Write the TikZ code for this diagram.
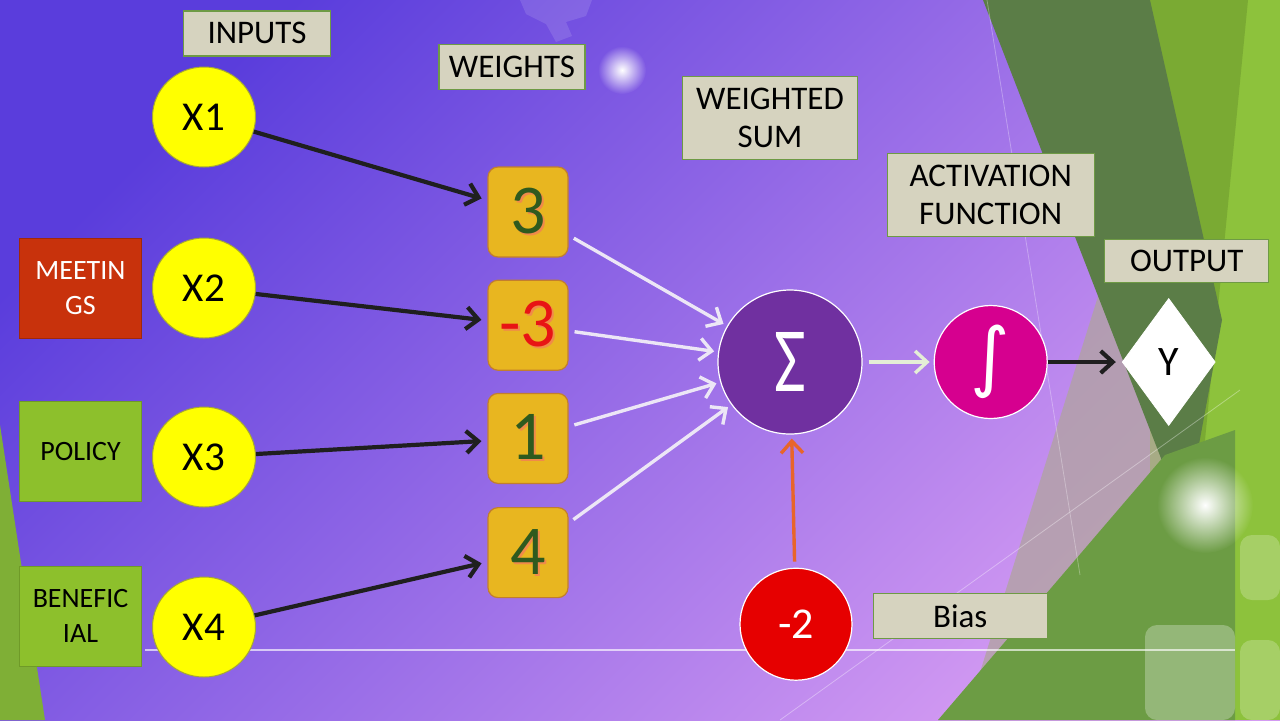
\documentclass[tikz,border=0pt]{standalone}
\usepackage{fontspec}
\setmainfont{Carlito}
\newfontfamily\symfont{DejaVu Sans}
\usepackage{tikz}
\usetikzlibrary{shapes.geometric, arrows.meta, positioning, fadings}
\definecolor{bgtl}{HTML}{5A3DDC}
\definecolor{bgmid}{HTML}{7A5DE0}
\definecolor{bgbr}{HTML}{D39AF2}
\definecolor{labelbg}{HTML}{D6D3BF}
\definecolor{labelline}{HTML}{6E9A45}
\definecolor{inyellow}{HTML}{FFFF00}
\definecolor{inborder}{HTML}{A6A832}
\definecolor{meetred}{HTML}{C8320C}
\definecolor{leafgreen}{HTML}{8DC02C}
\definecolor{leafline}{HTML}{6F9A28}
\definecolor{weightgold}{HTML}{E8B620}
\definecolor{weightline}{HTML}{C27E2E}
\definecolor{numgreen}{HTML}{2F5A1E}
\definecolor{numred}{HTML}{E81414}
\definecolor{numshadow}{HTML}{F08A4A}
\definecolor{sumpurple}{HTML}{7030A0}
\definecolor{actpink}{HTML}{D6008F}
\definecolor{biasred}{HTML}{E60000}
\definecolor{biasarrow}{HTML}{E8652A}
\definecolor{darkleaf}{HTML}{5B7D47}
\definecolor{oliveleaf}{HTML}{7AAA33}
\definecolor{midleaf}{HTML}{6C9C44}
\definecolor{brightleaf}{HTML}{8DC23C}
\definecolor{haze}{HTML}{B0A49E}
\definecolor{paleline}{HTML}{ECE6F6}
\definecolor{paleleaf}{HTML}{E4EED6}
\tikzfading[name=softglow, inner color=transparent!0, outer color=transparent!100]
\newcommand{\wnum}[2]{\makebox[0pt][l]{\kern1pt\raisebox{-1pt}{\textcolor{numshadow}{#2}}}\textcolor{#1}{#2}}
\tikzset{
  tag/.style={rectangle, draw=labelline, fill=labelbg, line width=0.6pt,
              align=center, inner sep=0pt, font=\fontsize{16.5}{19}\selectfont},
  inputnode/.style={ellipse, draw=inborder, fill=inyellow, line width=0.5pt,
              minimum width=51.5pt, minimum height=50pt, inner sep=0pt,
              font=\fontsize{20.5}{24}\selectfont},
  factor/.style={rectangle, line width=0.5pt, minimum width=61pt,
              minimum height=50pt, align=center, inner sep=0pt,
              font=\fontsize{14}{17.5}\selectfont},
  weightbox/.style={rectangle, rounded corners=5pt, draw=weightline,
              fill=weightgold, line width=0.6pt, minimum width=40pt,
              minimum height=45pt, inner sep=0pt, font=\fontsize{35}{36}\selectfont},
  unit/.style={circle, draw=white, line width=0.6pt, inner sep=0pt, text=white},
  arrow/.style={-{Straight Barb[length=6pt,width=11pt]}, line width=2.1pt,
              color=black!88, shorten >=3pt},
  lightarrow/.style={-{Straight Barb[length=6pt,width=11pt]}, line width=1.7pt,
              color=paleline, shorten <=3pt, shorten >=2pt}
}

\begin{document}
\begin{tikzpicture}[x=0.5pt, y=-0.5pt]

  %% ── Background ──────────────────────────────────────────────────────────
  \useasboundingbox (0,0) rectangle (1280,720);
  \shade[top color=bgtl, middle color=bgmid, bottom color=bgbr, shading angle=45]
        (0,0) rectangle (1280,720);
  \fill[white, opacity=0.12] (520,0) -- (592,0) -- (586,16) -- (566,22)
        -- (572,36) -- (556,42) -- (546,24) -- (526,14) -- cycle;
  \fill[brightleaf] (1150,0) -- (1280,0) -- (1280,720) -- (1150,720) -- cycle;
  \fill[oliveleaf] (1150,0) -- (1248,0) -- (1205,440) -- (1175,520) -- cycle;
  \fill[haze, opacity=0.75] (1100,290) -- (1200,480) -- (1010,720) -- (965,720) -- cycle;
  \fill[darkleaf] (983,0) -- (1150,0) -- (1222,320) -- (1185,520) -- cycle;
  \fill[midleaf] (938,720) -- (1165,455) -- (1235,430) -- (1235,720) -- cycle;
  \fill[white, opacity=0.28, rounded corners=6pt] (1145,625) rectangle (1235,720);
  \fill[white, opacity=0.22, rounded corners=6pt] (1240,535) rectangle (1280,600);
  \fill[white, opacity=0.22, rounded corners=6pt] (1240,640) rectangle (1280,720);
  \fill[brightleaf!90!black] (0,425) -- (45,720) -- (0,720) -- cycle;
  \draw[white, opacity=0.3, line width=0.4pt] (987,0) -- (1080,575);
  \draw[white, opacity=0.35, line width=0.4pt] (780,720) -- (1240,390);
  \draw[white, opacity=0.65, line width=0.8pt] (145,650) -- (1235,650);
  \fill[white, path fading=softglow] (622,70) circle (24);
  \fill[white, path fading=softglow] (1205,505) circle (48);

  %% ── Inputs ──────────────────────────────────────────────────────────────
  \node[inputnode] (x1) at (204,117) {X1};
  \node[inputnode, below=35pt of x1] (x2) {X2};
  \node[inputnode, below=34pt of x2] (x3) {X3};
  \node[inputnode, below=34.5pt of x3] (x4) {X4};

  \node[factor, fill=meetred, draw=meetred!80!black, text=white,
        left=5pt of x2] (meetings) {MEETIN\\GS};
  \node[factor, fill=leafgreen, draw=leafline, left=5pt of x3,
        yshift=3pt] (policy) {POLICY};
  \node[factor, fill=leafgreen, draw=leafline, left=5pt of x4,
        yshift=5.5pt] (beneficial) {BENEFIC\\IAL};

  %% ── Weights ─────────────────────────────────────────────────────────────
  \node[weightbox] (w1) at (528,212) {\wnum{numgreen}{3}};
  \node[weightbox, below=11pt of w1] (w2) {\wnum{numred}{-3}};
  \node[weightbox, below=11pt of w2] (w3) {\wnum{numgreen}{1}};
  \node[weightbox, below=11.5pt of w3] (w4) {\wnum{numgreen}{4}};

  %% ── Sum, activation, output ─────────────────────────────────────────────
  \node[unit, fill=sumpurple, minimum size=72pt,
        font=\fontsize{46}{46}\selectfont] (sum) at (790,362) {\scalebox{0.75}[1]{Σ}};
  \node[unit, fill=actpink, minimum size=56.5pt, right=35.5pt of sum,
        font=\symfont\fontsize{38}{38}\selectfont] (act) {∫};
  \node[diamond, fill=white, draw=white, minimum width=46.5pt,
        minimum height=63.5pt, inner sep=0pt, right=37pt of act,
        font=\fontsize{21}{21}\selectfont] (out) {Y};
  \node[unit, fill=biasred, minimum size=56pt, below=66.5pt of sum, xshift=3pt,
        font=\fontsize{22}{22}\selectfont] (bias) {-2};

  %% ── Tags ────────────────────────────────────────────────────────────────
  \node[tag, minimum width=73.5pt, minimum height=22.5pt, above=5pt of x1,
        xshift=26.5pt] (tinputs) {INPUTS};
  \node[tag, minimum width=73pt, minimum height=22.5pt, above=38pt of w1,
        xshift=-8pt] (tweights) {WEIGHTS};
  \node[tag, minimum width=87.5pt, minimum height=41.5pt, above=64.5pt of sum,
        xshift=-10pt] (tsum) {WEIGHTED\\SUM};
  \node[tag, minimum width=103.5pt, minimum height=41.5pt,
        above=34pt of act] (tact) {ACTIVATION\\FUNCTION};
  \node[tag, minimum width=82pt, minimum height=21.5pt, above=7.5pt of out,
        xshift=9pt] (toutput) {OUTPUT};
  \node[tag, minimum width=87pt, minimum height=22.5pt, right=10pt of bias,
        yshift=4pt] (tbias) {Bias};

  %% ── Arrows ──────────────────────────────────────────────────────────────
  \draw[arrow] (x1) -- (w1);
  \draw[arrow] (x2) -- (w2);
  \draw[arrow] (x3) -- (w3);
  \draw[arrow] (x4) -- (w4);

  \draw[lightarrow] (w1) -- (sum);
  \draw[lightarrow] (w2) -- (sum);
  \draw[lightarrow] (w3) -- (sum);
  \draw[lightarrow] (w4) -- (sum);

  \draw[lightarrow, color=paleleaf] (sum) -- (act);
  \draw[arrow] (act) -- (out);
  \draw[lightarrow, color=biasarrow] (bias) -- (sum);

\end{tikzpicture}
\end{document}
